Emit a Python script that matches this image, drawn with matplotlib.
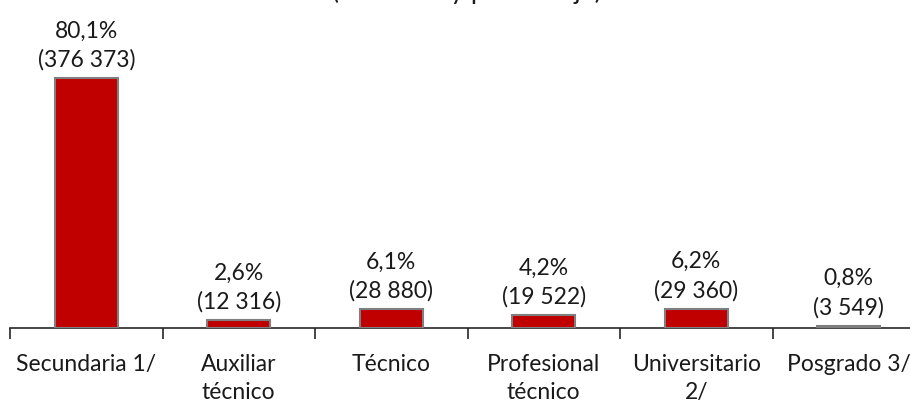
import matplotlib
matplotlib.use("Agg")
import matplotlib.pyplot as plt
from matplotlib.ticker import FixedLocator

categories = ["Secundaria 1/", "Auxiliar\ntécnico", "Técnico", "Profesional\ntécnico",
              "Universitario\n2/", "Posgrado 3/"]
percent = [80.1, 2.6, 6.1, 4.2, 6.2, 0.8]
counts = [376373, 12316, 28880, 19522, 29360, 3549]
pct_labels = ["80,1%", "2,6%", "6,1%", "4,2%", "6,2%", "0,8%"]
count_labels = ["(376 373)", "(12 316)", "(28 880)", "(19 522)", "(29 360)", "(3 549)"]
title = "(Absoluto y porcentaje)"

plt.rcParams['font.family'] = ['Lato', 'DejaVu Sans']
FS = 16.5

W, H = 910, 403
fig = plt.figure(figsize=(W / 100, H / 100), dpi=100)
ax_left = 10 / W
ax_width = 915 / W
ax_bottom = 1 - 328 / H
ax_top = 1 - 47 / H
ax = fig.add_axes([ax_left, ax_bottom, ax_width, ax_top - ax_bottom])

x = list(range(len(categories)))
ax.bar(x, percent, width=0.41, color="#C00000", edgecolor="#7F7F7F", linewidth=1.5, zorder=3)

for xi, p, pl, cl in zip(x, percent, pct_labels, count_labels):
    ax.annotate(pl + "\n" + cl, xy=(xi, p), xytext=(0, 5), textcoords="offset points",
                ha="center", va="bottom", fontsize=FS, color="#1a1a1a", linespacing=1.45)

ax.set_xlim(-0.5, 5.5)
ax.set_ylim(0, 90)
for s in ["top", "right", "left"]:
    ax.spines[s].set_visible(False)
ax.spines["bottom"].set_color("#262626")
ax.spines["bottom"].set_linewidth(1.2)
ax.set_yticks([])
ax.set_xticks(x)
ax.set_xticklabels(categories, fontsize=FS, color="#1a1a1a", linespacing=1.4)
ax.tick_params(axis="x", which="major", length=0, pad=19)
ax.xaxis.set_minor_locator(FixedLocator([i - 0.5 for i in range(len(categories) + 1)]))
ax.tick_params(axis="x", which="minor", length=8, width=1.2, color="#262626")

fig.text(467 / W, 1 + 1 / H, title, ha="center", va="baseline", fontsize=19, color="#1a1a1a")

fig.savefig("out.png", dpi=100)
